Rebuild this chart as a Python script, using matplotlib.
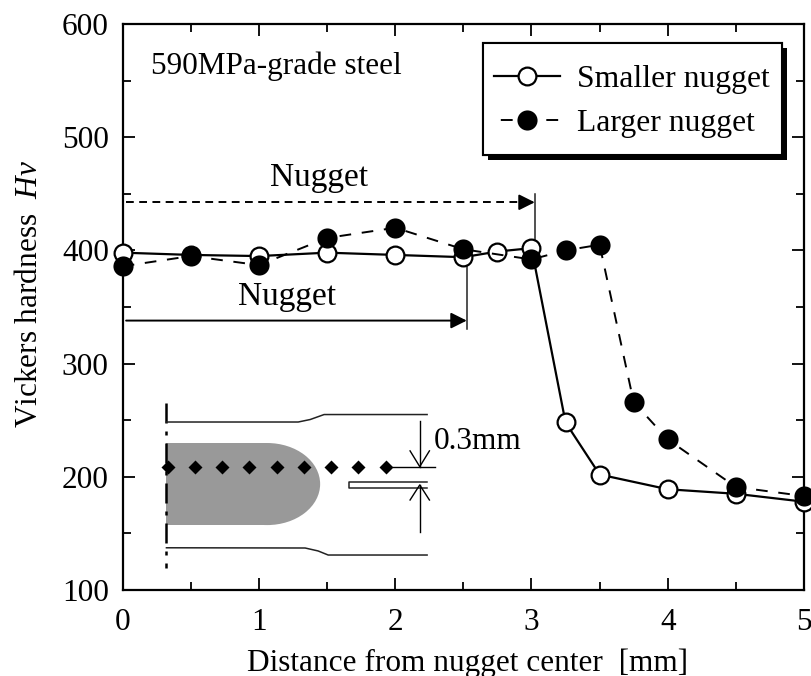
#!/usr/bin/env python3
"""Vickers hardness across the weld, smaller vs larger nugget."""

import matplotlib
matplotlib.use('Agg')
import matplotlib.pyplot as plt
import matplotlib.patheffects as pe
from matplotlib.patches import Ellipse, Rectangle
from matplotlib.ticker import MultipleLocator

plt.rcParams['font.family'] = ['Liberation Serif', 'DejaVu Serif']
plt.rcParams['mathtext.fontset'] = 'custom'
plt.rcParams['mathtext.it'] = 'Liberation Serif:italic'
plt.rcParams['mathtext.rm'] = 'Liberation Serif'

# Hardness data
small_x = [0, 0.5, 1, 1.5, 2, 2.5, 2.75, 3, 3.25, 3.5, 4, 4.5, 5]
small_hv = [398, 396, 395, 398, 396, 394, 399, 402, 248, 202, 189, 185, 178]
large_x = [0, 0.5, 1, 1.5, 2, 2.5, 3, 3.25, 3.5, 3.75, 4, 4.5, 5]
large_hv = [386, 395, 387, 411, 420, 401, 392, 400, 405, 266, 233, 191, 183]

x_ticks = [0, 1, 2, 3, 4, 5]
y_ticks = [100, 200, 300, 400, 500, 600]

# Weld schematic, in data units
center_x = [0.321, 0.321]
center_y = [265, 119]
sheet_top_x = [0.321, 1.288, 1.376, 1.478, 2.234]
sheet_top_y = [248.4, 248.4, 250.6, 255, 255]
sheet_bot_x = [0.321, 1.339, 1.434, 1.508, 2.234]
sheet_bot_y = [137.3, 137.1, 134.5, 130.9, 130.9]
notch_x = [2.234, 1.66, 1.66, 2.234]
notch_y = [195.4, 195.4, 190.4, 190.4]
indent_x = [0.33, 0.53, 0.73, 0.93, 1.13, 1.33, 1.53, 1.73, 1.93]
indent_y = [209] * 9

FS = 22.5
ARROW = '-|>,head_length=0.6,head_width=0.3'
AX_W, AX_H = 681.3, 566

fig = plt.figure(figsize=(8.11, 6.76), dpi=100)
ax = fig.add_axes([122.7 / 811, 1 - 590 / 676, AX_W / 811, AX_H / 676])

# Schematic first so the data sits on top
ax.add_patch(Rectangle((0.319, 157.4), 0.741, 72.5, fc='#999999', ec='none', zorder=1))
ax.add_patch(Ellipse((1.06, 193.6), 0.778, 72.5, fc='#999999', ec='none', zorder=1))
ax.plot(center_x, center_y, color='k', lw=1.8, ls=(0, (8, 3.2, 1.6, 3.2)), zorder=2)
ax.plot(sheet_top_x, sheet_top_y, color='#222222', lw=1.1, zorder=2)
ax.plot(sheet_bot_x, sheet_bot_y, color='#222222', lw=1.1, zorder=2)
ax.plot(notch_x, notch_y, color='#222222', lw=1.1, zorder=2)
ax.plot(indent_x, indent_y, ls='none', marker='D', ms=6.8, mfc='k', mec='none', zorder=3)

# 0.3mm dimension
ax.plot([1.985, 2.293], [209, 209], color='k', lw=1, zorder=2)
ax.plot([2.18, 2.18], [249.6, 209], color='k', lw=1, zorder=2)
ax.plot([2.18, 2.18], [192.8, 151.2], color='k', lw=1, zorder=2)
ax.plot([2.109, 2.18, 2.251], [222.9, 209, 222.9], color='k', lw=1, zorder=2)
ax.plot([2.109, 2.18, 2.251], [179.5, 192.8, 179.5], color='k', lw=1, zorder=2)
ax.text(2.285, 231.6, '0.3mm', fontsize=FS, va='center', ha='left')

# Nugget extent
ax.plot([3.024, 3.024], [402, 450], color='#222222', lw=1.1, zorder=2)
ax.plot([2.525, 2.525], [386, 330.5], color='#222222', lw=1.1, zorder=2)
ax.plot([0.025, 2.95], [442.5, 442.5], color='k', lw=1.4, ls=(0, (4, 2.8)), zorder=2)
ax.annotate('', xy=(3.024, 442.5), xytext=(2.93, 442.5),
            arrowprops=dict(arrowstyle=ARROW, color='k', lw=1.4,
                            shrinkA=0, shrinkB=0, mutation_scale=16))
ax.annotate('', xy=(2.525, 338), xytext=(0.025, 338),
            arrowprops=dict(arrowstyle=ARROW, color='k', lw=1.4,
                            shrinkA=0, shrinkB=0, mutation_scale=16))
ax.text(1.44, 464, 'Nugget', fontsize=24, ha='center', va='center')
ax.text(1.206, 358.8, 'Nugget', fontsize=24, ha='center', va='center')
ax.text(0.206, 563, '590MPa-grade steel', fontsize=FS, ha='left', va='center')

# Data
ax.plot(small_x, small_hv, color='k', lw=1.6, marker='o', ms=12.8, mfc='w', mec='k', mew=1.6,
        clip_on=False, zorder=5, label='Smaller nugget')
ax.plot(large_x, large_hv, color='k', lw=1.4, ls=(0, (6, 5.5)), marker='o', ms=14.5, mfc='k', mec='k',
        mew=0, clip_on=False, zorder=6, label='Larger nugget')

ax.set_xlim(0, 5)
ax.set_ylim(100, 600)
ax.set_xticks(x_ticks)
ax.set_yticks(y_ticks)
ax.xaxis.set_minor_locator(MultipleLocator(0.5))
ax.yaxis.set_minor_locator(MultipleLocator(50))
ax.tick_params(which='major', direction='in', top=True, right=True, length=8.6, width=1.3,
               labelsize=FS)
ax.tick_params(axis='x', which='major', pad=13)
ax.tick_params(axis='y', which='major', pad=10)
ax.tick_params(which='minor', direction='in', top=True, right=True, length=5.8, width=1.3)
for spine in ax.spines.values():
    spine.set_linewidth(1.6)

ax.set_xlabel('Distance from nugget center  [mm]', fontsize=FS)
ax.xaxis.set_label_coords(0.506, -0.1025)
ax.set_ylabel(r'Vickers hardness  $\mathit{Hv}$', fontsize=FS)
ax.yaxis.set_label_coords(-0.116, 0.523)

# Legend box is drawn by hand, its margins differ across and down
box = Rectangle(((482.7 - 122.7) / AX_W, 1 - (155 - 24) / AX_H), 299 / AX_W, 112 / AX_H,
                transform=ax.transAxes, fc='w', ec='k', lw=1.5, zorder=7)
box.set_path_effects([pe.withSimplePatchShadow(offset=(3.5, -3.5), shadow_rgbFace='k', alpha=1), pe.Normal()])
ax.add_patch(box)

leg = ax.legend(loc='upper left', bbox_to_anchor=((494 - 122.7) / AX_W, 1 - (64.5 - 24) / AX_H),
                frameon=False, fontsize=22.8, handlelength=2.08, handletextpad=0.53,
                borderaxespad=0, borderpad=0, labelspacing=0.49)
leg.set_zorder(8)
leg.legend_handles[1].set_linestyle((8.2, (6.1, 5.6)))

plt.savefig('out.png', dpi=100)
